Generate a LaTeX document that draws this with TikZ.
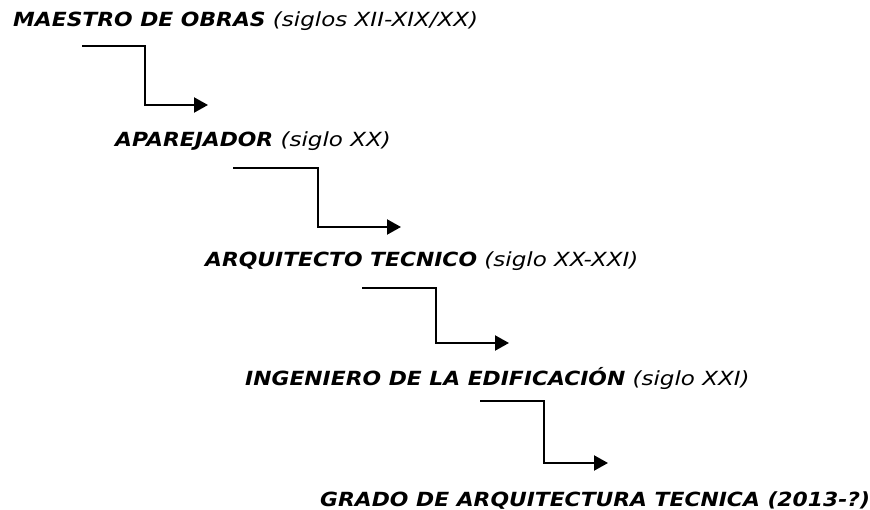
\documentclass[tikz,border=0pt]{standalone}
\usepackage{fontspec}
\setmainfont{DejaVu Sans}[ItalicFont={DejaVu Sans Oblique},ItalicFeatures={FakeStretch=1.18},
  BoldItalicFont={DejaVu Sans Bold Oblique},BoldItalicFeatures={FakeStretch=1.12}]
\usetikzlibrary{arrows.meta}
\begin{document}
\begin{tikzpicture}[>={Triangle[length=14pt,width=15pt]}, x=1pt, y=-1pt,
    title/.style={anchor=base west, inner sep=0pt, font=\fontsize{19.5}{22}\selectfont\itshape},
    stair/.style={->, line width=2.2pt}]
\useasboundingbox (0,0) rectangle (870,510);
\node[title] (maestro) at (13,27){\textbf{MAESTRO DE OBRAS} (siglos XII-XIX/XX)};
\node[title] (aparejador) at (115,147){\textbf{APAREJADOR} (siglo XX)};
\node[title] (arquitecto) at (205,267){\textbf{ARQUITECTO TECNICO} (siglo XX-XXI)};
\node[title] (ingeniero) at (245,385){\textbf{INGENIERO DE LA EDIFICACIÓN} (siglo XXI)};
\node[title] (grado) at (320,506){\textbf{GRADO DE ARQUITECTURA TECNICA (2013-?)}};
\coordinate (s1) at (82,46);   \coordinate (e1) at (208,105);
\coordinate (s2) at (233,168); \coordinate (e2) at (401,227);
\coordinate (s3) at (362,288); \coordinate (e3) at (509,343);
\coordinate (s4) at (480,401); \coordinate (e4) at (608,463);
\draw[stair](s1)--++(63,0)|-(e1);
\draw[stair](s2)--++(85,0)|-(e2);
\draw[stair](s3)--++(74,0)|-(e3);
\draw[stair](s4)--++(64,0)|-(e4);
\end{tikzpicture}
\end{document}
